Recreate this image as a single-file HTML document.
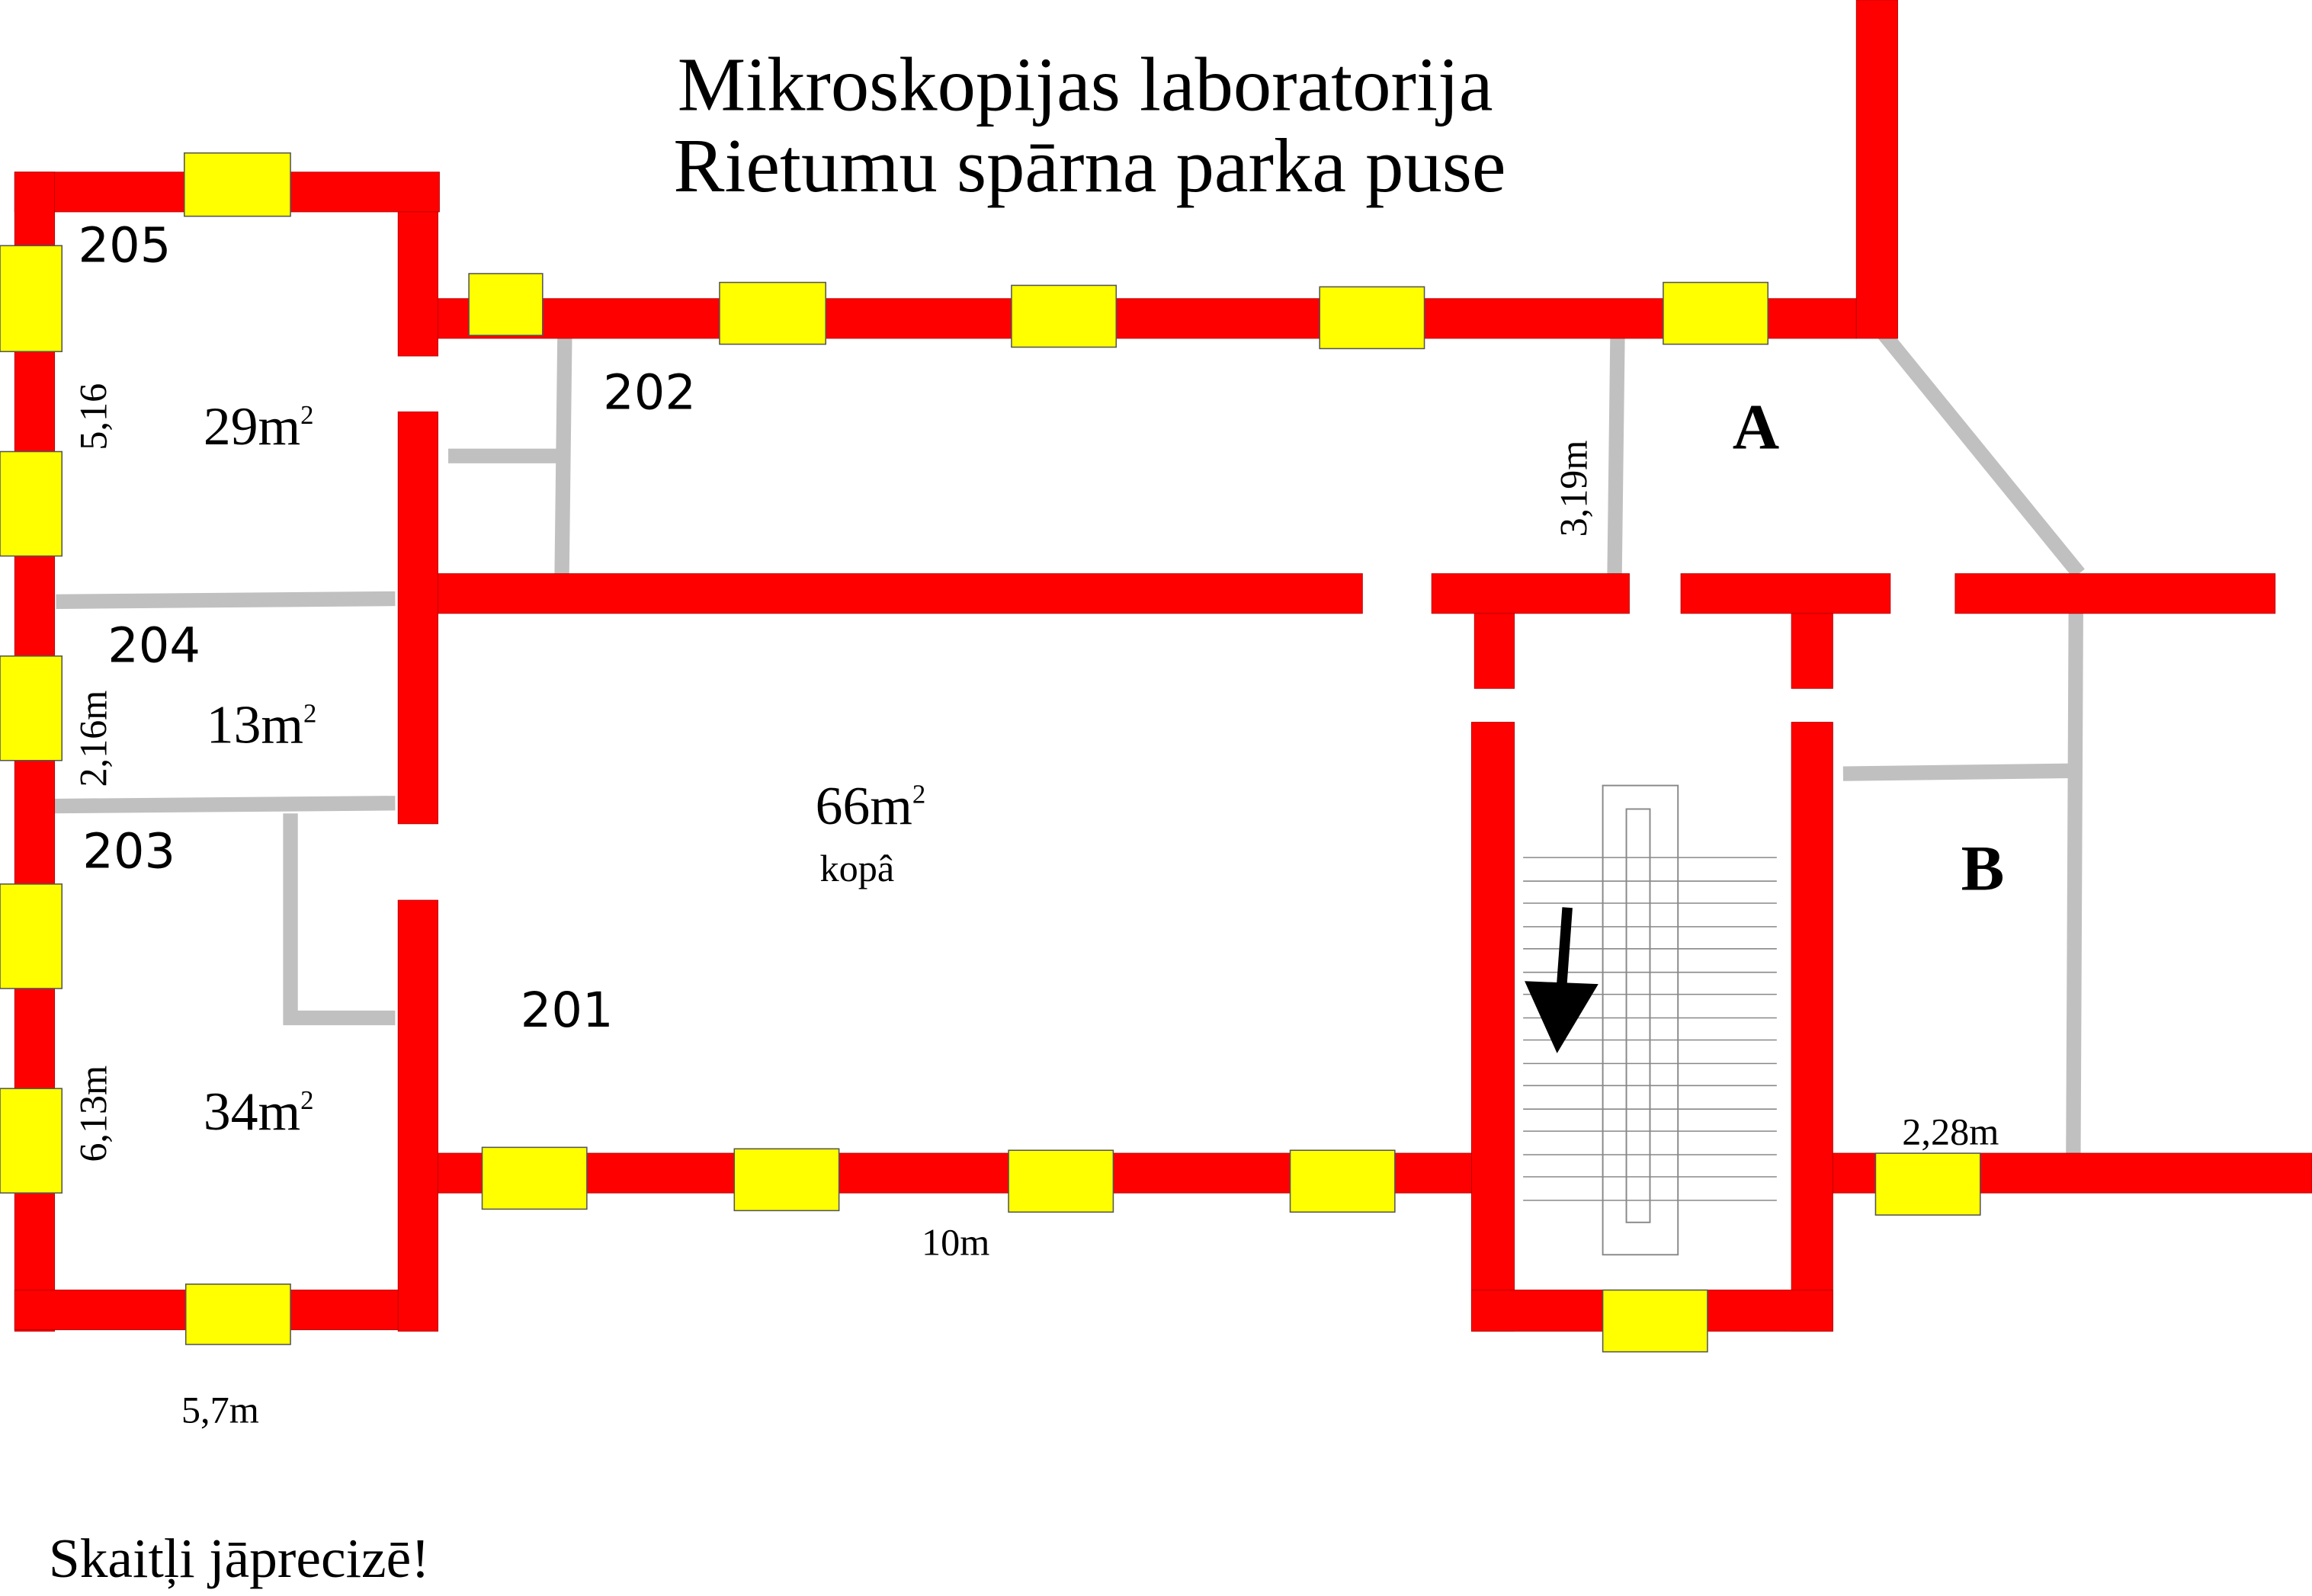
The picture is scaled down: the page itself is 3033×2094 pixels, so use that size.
<!DOCTYPE html>
<html><head><meta charset="utf-8"><style>
html,body{margin:0;padding:0;background:#fff;}
svg{display:block;}
.r{fill:#ff0000;stroke:#b00;stroke-width:0.5}
.y{fill:#ffff00;stroke:#555;stroke-width:0.8}
.g{stroke:#c0c0c0;stroke-width:10;fill:none}
.s{font-family:"DejaVu Sans","Liberation Sans",sans-serif;fill:#000}
.f{font-family:"Liberation Serif",serif;fill:#000}
</style></head><body>
<svg width="3033" height="2094" viewBox="0 0 1568 1085" preserveAspectRatio="none" xmlns="http://www.w3.org/2000/svg">
<rect width="1568" height="1085" fill="#fff"/>
<line class="g" x1="38" y1="409" x2="268" y2="407"/>
<line class="g" x1="34" y1="548" x2="268" y2="546"/>
<polyline class="g" points="197,553 197,692 268,692"/>
<polyline class="g" points="304,310 382,310"/>
<line class="g" x1="383" y1="230" x2="381" y2="395"/>
<line class="g" x1="1097" y1="230" x2="1095" y2="390"/>
<line class="g" x1="1276" y1="225" x2="1410" y2="390"/>
<line class="g" x1="1408" y1="390" x2="1406" y2="811"/>
<line class="g" x1="1250" y1="526" x2="1404" y2="524"/>
<rect class="r" x="10" y="117" width="288" height="27"/>
<rect class="r" x="10" y="117" width="27" height="788"/>
<rect class="r" x="10" y="877" width="287" height="27"/>
<rect class="r" x="270" y="144" width="27" height="98"/>
<rect class="r" x="270" y="280" width="27" height="280"/>
<rect class="r" x="270" y="612" width="27" height="293"/>
<rect class="r" x="297" y="203" width="962" height="27"/>
<rect class="r" x="1259" y="0" width="28" height="230"/>
<rect class="r" x="297" y="390" width="627" height="27"/>
<rect class="r" x="971" y="390" width="134" height="27"/>
<rect class="r" x="1140" y="390" width="142" height="27"/>
<rect class="r" x="1326" y="390" width="217" height="27"/>
<rect class="r" x="1000" y="417" width="27" height="51"/>
<rect class="r" x="1215" y="417" width="28" height="51"/>
<rect class="r" x="998" y="491" width="29" height="414"/>
<rect class="r" x="1215" y="491" width="28" height="414"/>
<rect class="r" x="297" y="784" width="701" height="27"/>
<rect class="r" x="998" y="877" width="245" height="28"/>
<rect class="r" x="1243" y="784" width="325" height="27"/>
<rect class="y" x="125" y="104" width="72" height="43"/>
<rect class="y" x="318" y="186" width="50" height="42"/>
<rect class="y" x="488" y="192" width="72" height="42"/>
<rect class="y" x="686" y="194" width="71" height="42"/>
<rect class="y" x="895" y="195" width="71" height="42"/>
<rect class="y" x="1128" y="192" width="71" height="42"/>
<rect class="y" x="0" y="167" width="42" height="72"/>
<rect class="y" x="0" y="307" width="42" height="71"/>
<rect class="y" x="0" y="446" width="42" height="71"/>
<rect class="y" x="0" y="601" width="42" height="71"/>
<rect class="y" x="0" y="740" width="42" height="71"/>
<rect class="y" x="126" y="873" width="71" height="41"/>
<rect class="y" x="327" y="780" width="71" height="42"/>
<rect class="y" x="498" y="781" width="71" height="42"/>
<rect class="y" x="684" y="782" width="71" height="42"/>
<rect class="y" x="875" y="782" width="71" height="42"/>
<rect class="y" x="1087" y="877" width="71" height="42"/>
<rect class="y" x="1272" y="784" width="71" height="42"/>
<rect x="1087" y="534" width="51" height="319" fill="#fff" stroke="#888" stroke-width="1"/>
<rect x="1103" y="550" width="16" height="281" fill="#fff" stroke="#888" stroke-width="1"/>
<g stroke="#888" stroke-width="0.8">
<line x1="1033" y1="583" x2="1205" y2="583"/><line x1="1033" y1="599" x2="1205" y2="599"/>
<line x1="1033" y1="614" x2="1205" y2="614"/><line x1="1033" y1="630" x2="1205" y2="630"/>
<line x1="1033" y1="645" x2="1205" y2="645"/><line x1="1033" y1="661" x2="1205" y2="661"/>
<line x1="1033" y1="676" x2="1205" y2="676"/><line x1="1033" y1="692" x2="1205" y2="692"/>
<line x1="1033" y1="707" x2="1205" y2="707"/><line x1="1033" y1="723" x2="1205" y2="723"/>
<line x1="1033" y1="738" x2="1205" y2="738"/><line x1="1033" y1="754" x2="1205" y2="754"/>
<line x1="1033" y1="769" x2="1205" y2="769"/><line x1="1033" y1="785" x2="1205" y2="785"/>
<line x1="1033" y1="800" x2="1205" y2="800"/><line x1="1033" y1="816" x2="1205" y2="816"/>
</g>
<line x1="1063" y1="617" x2="1059" y2="672" stroke="#000" stroke-width="7"/>
<polygon points="1034,667 1084,669 1056,716" fill="#000"/>
<text class="f" x="736" y="75" font-size="52" text-anchor="middle">Mikroskopijas laboratorija</text>
<text class="f" x="739" y="130" font-size="52" text-anchor="middle">Rietumu spārna parka puse</text>
<text class="s" x="53" y="178" font-size="33">205</text>
<text class="s" x="409" y="278" font-size="33">202</text>
<text class="s" x="73" y="450" font-size="33">204</text>
<text class="s" x="56" y="590" font-size="33">203</text>
<text class="s" x="353" y="698" font-size="33">201</text>
<text class="f" x="138" y="302" font-size="37">29m<tspan font-size="18" dy="-14">2</tspan></text>
<text class="f" x="140" y="505" font-size="37">13m<tspan font-size="18" dy="-14">2</tspan></text>
<text class="f" x="138" y="768" font-size="37">34m<tspan font-size="18" dy="-14">2</tspan></text>
<text class="f" x="553" y="560" font-size="37">66m<tspan font-size="18" dy="-14">2</tspan></text>
<text class="f" x="556" y="599" font-size="26">kopâ</text>
<text class="f" x="1175" y="305" font-size="44" font-weight="bold">A</text>
<text class="f" x="1330" y="605" font-size="44" font-weight="bold">B</text>
<text class="f" x="625" y="853" font-size="26">10m</text>
<text class="f" x="123" y="967" font-size="26">5,7m</text>
<text class="f" x="1290" y="778" font-size="26">2,28m</text>
<text class="f" font-size="26" transform="translate(72,306) rotate(-90)">5,16</text>
<text class="f" font-size="26" transform="translate(72,535) rotate(-90)">2,16m</text>
<text class="f" font-size="26" transform="translate(72,790) rotate(-90)">6,13m</text>
<text class="f" font-size="26" transform="translate(1076,365) rotate(-90)">3,19m</text>
<text class="f" x="33" y="1072" font-size="38">Skaitļi jāprecizē!</text>
</svg>
</body></html>
